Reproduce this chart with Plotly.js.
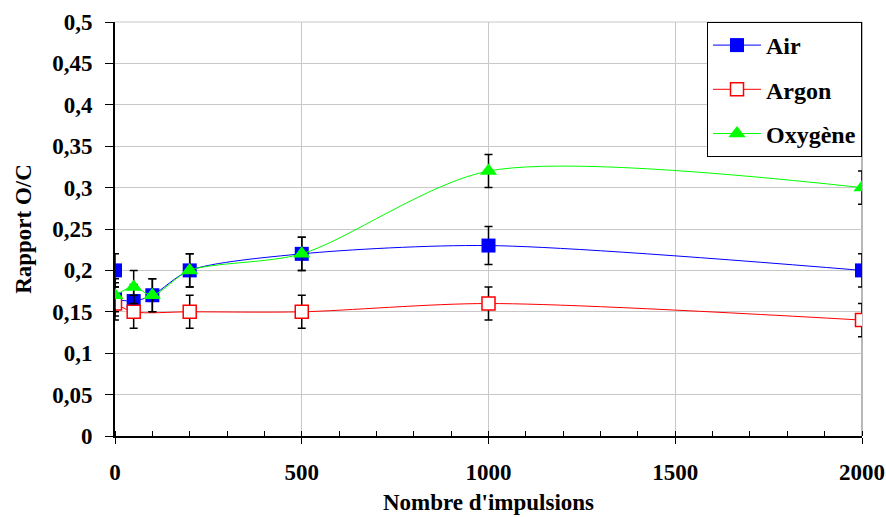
<!DOCTYPE html>
<html>
<head>
<meta charset="utf-8">
<script src="https://cdn.plot.ly/plotly-3.0.1.min.js"></script>
<style>html,body{margin:0;padding:0;background:#fff;}#chart{width:886px;height:517px;}</style>
</head>
<body>
<div id="chart"></div>
<script>
// Data
const airX = [0, 50, 100, 200, 500, 1000, 2000];
const airY = [0.165, 0.163, 0.17, 0.2, 0.22, 0.23, 0.2];
const airErr = [0.02, 0.02, 0.02, 0.02, 0.02, 0.023, 0.02];
const airStartX = [0];
const airStartY = [0.2];
const airStartErr = [0.02];

const argonX = [0, 50, 200, 500, 1000, 2000];
const argonY = [0.16, 0.15, 0.15, 0.15, 0.16, 0.14];
const argonErr = [0.02, 0.02, 0.02, 0.02, 0.02, 0.02];

const oxyX = [0, 50, 100, 200, 500, 1000, 2000];
const oxyY = [0.17, 0.18, 0.17, 0.2, 0.22, 0.32, 0.3];
const oxyErr = [0.02, 0.02, 0.02, 0.02, 0.02, 0.02, 0.02];

const xTickVals = [0, 500, 1000, 1500, 2000];
const xTickText = ['0', '500', '1000', '1500', '2000'];
const yTickVals = [0, 0.05, 0.1, 0.15, 0.2, 0.25, 0.3, 0.35, 0.4, 0.45, 0.5];
const yTickText = ['0', '0,05', '0,1', '0,15', '0,2', '0,25', '0,3', '0,35', '0,4', '0,45', '0,5'];

const FONT = 'Liberation Serif, Times New Roman, serif';
const FS = 23;
const errStyle = (arr) => ({type: 'data', array: arr, visible: true, color: '#000', thickness: 1.5, width: 4});

const traces = [
  {
    x: airStartX, y: airStartY, mode: 'markers', name: 'Air', showlegend: false, legendgroup: 'a',
    marker: {symbol: 'square', size: 14, color: '#0000ff'},
    error_y: errStyle(airStartErr)
  },
  {
    x: airX, y: airY, mode: 'lines+markers', name: 'Air', legendgroup: 'a',
    line: {color: '#0000ff', width: 1, shape: 'spline', smoothing: 0.8},
    marker: {symbol: 'square', size: 14, color: '#0000ff'},
    error_y: errStyle(airErr)
  },
  {
    x: argonX, y: argonY, mode: 'lines+markers', name: 'Argon', legendgroup: 'b',
    line: {color: '#ff0000', width: 1, shape: 'spline', smoothing: 0.8},
    marker: {symbol: 'square', size: 13, color: '#ffffff', line: {color: '#ff0000', width: 1.5}},
    error_y: errStyle(argonErr)
  },
  {
    x: oxyX, y: oxyY, mode: 'lines+markers', name: 'Oxygène', legendgroup: 'c',
    line: {color: '#00ff00', width: 1, shape: 'spline', smoothing: 0.8},
    marker: {symbol: 'triangle-up', size: 15, color: '#00ff00'},
    error_y: errStyle(oxyErr)
  }
];

const layout = {
  width: 886, height: 517,
  margin: {l: 115, r: 24, t: 22, b: 81, pad: 0},
  paper_bgcolor: '#ffffff', plot_bgcolor: '#ffffff',
  font: {family: FONT, size: FS, color: '#000'},
  showlegend: true,
  legend: {
    x: 1, xanchor: 'right', y: 1, yanchor: 'top',
    bgcolor: '#ffffff', bordercolor: '#000', borderwidth: 1,
    font: {family: FONT, size: 24, color: '#000', weight: 'bold'},
    tracegroupgap: 10,
    itemwidth: 48
  },
  xaxis: {
    range: [0, 2000], tickmode: 'array', tickvals: xTickVals, ticktext: xTickText,
    showline: true, linecolor: '#000', linewidth: 1.5,
    ticks: 'outside', ticklen: 6, tickcolor: '#000', tickwidth: 1,
    ticklabelstandoff: 9,
    minor: {dtick: 100, ticks: 'inside', ticklen: 5, tickcolor: '#000', tickwidth: 1, showgrid: false},
    showgrid: true, gridcolor: '#c8c8c8', gridwidth: 1,
    zeroline: false,
    tickfont: {family: FONT, size: FS, weight: 'bold'},
    title: {text: "Nombre d'impulsions", font: {family: FONT, size: FS, weight: 'bold'}, standoff: 10},
    automargin: false, fixedrange: true
  },
  yaxis: {
    range: [0, 0.5], tickmode: 'array', tickvals: yTickVals, ticktext: yTickText,
    showline: true, linecolor: '#000', linewidth: 2,
    ticks: 'outside', ticklen: 8, tickcolor: '#000', tickwidth: 1,
    ticklabelstandoff: 8,
    showgrid: true, gridcolor: '#c8c8c8', gridwidth: 1,
    zeroline: false,
    tickfont: {family: FONT, size: FS, weight: 'bold'},
    title: {text: 'Rapport O/C', font: {family: FONT, size: FS, weight: 'bold'}, standoff: 14},
    automargin: false, fixedrange: true
  },
  shapes: [
    {type: 'line', xref: 'paper', yref: 'paper', x0: 1, x1: 1, y0: 0, y1: 1, line: {color: '#a0a0a0', width: 1.5}, layer: 'below'},
    {type: 'line', xref: 'paper', yref: 'paper', x0: 0, x1: 1, y0: 1, y1: 1, line: {color: '#c8c8c8', width: 1}, layer: 'below'}
  ]
};

Plotly.newPlot('chart', traces, layout, {displayModeBar: false, staticPlot: true});
</script>
</body>
</html>
